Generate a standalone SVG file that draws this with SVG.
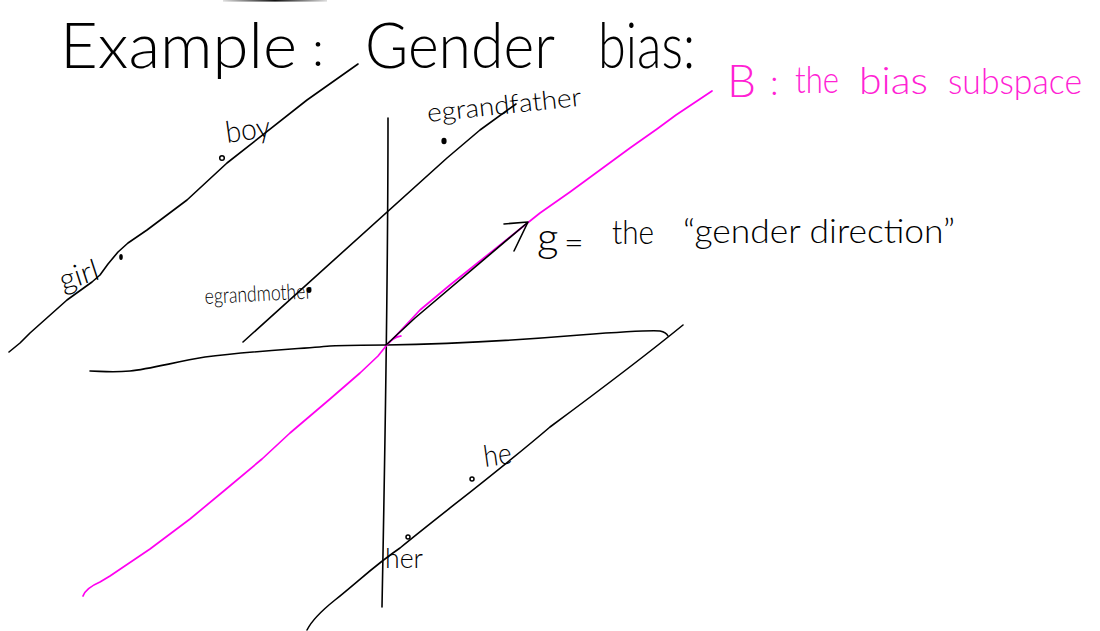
<svg xmlns="http://www.w3.org/2000/svg" width="1100" height="631" viewBox="0 0 1100 631">
<defs>
<linearGradient id="topbar" x1="0" x2="1" y1="0" y2="0">
<stop offset="0" stop-color="#ddd"/><stop offset="0.5" stop-color="#111"/><stop offset="1" stop-color="#ddd"/>
</linearGradient>
</defs>
<style>
.ink{fill:none;stroke:#000;stroke-width:1.6;stroke-linecap:round;stroke-linejoin:round}
.pink{fill:none;stroke:#ff00f0;stroke-width:1.7;stroke-linecap:round;stroke-linejoin:round}
.t{font-family:Lato,"Liberation Sans",sans-serif;font-weight:300;fill:#000}
.pt{font-family:Lato,"Liberation Sans",sans-serif;font-weight:300;fill:#ff22d4}
.dot{fill:#fff;stroke:#000;stroke-width:1.5}
.fdot{fill:#000}
</style>
<rect x="223" y="0" width="104" height="1.6" fill="url(#topbar)"/>
<g id="title">
<text class="t" x="60" y="68" font-size="64" textLength="237" lengthAdjust="spacingAndGlyphs">Example</text>
<text class="t" x="312" y="66" font-size="50">:</text>
<text class="t" x="365" y="68" font-size="64" textLength="190" lengthAdjust="spacingAndGlyphs">Gender</text>
<text class="t" x="598" y="68" font-size="64" textLength="97" lengthAdjust="spacingAndGlyphs">bias:</text>
</g>
<g id="connectors">
<path id="axis-x" class="ink" d="M90,371 C100,371 110,373 130,371 C150,369 175,362 205,357 C250,351 300,349 330,346 C350,345 370,345 386,345 C450,344 520,340 580,335 C620,332 650,330 660,331 C665,332 667,334 668,336"/>
<path id="axis-y" class="ink" d="M388,118 C388,250 386,400 382,607"/>
<path id="line-girl-boy" class="ink" d="M9,352 L20,343 L30,333 L67,300 L92,282 L100,275 L108,264 L118,252 L128,243 L147,230 L187,200 L227,163 L307,100 L358,64"/>
<path id="line-grand" class="ink" d="M243,342 L447,158 L480,130 L516,104"/>
<path id="line-her-he" class="ink" d="M307,630 C312,620 320,612 335,600 C360,580 375,565 400,548 C440,515 500,470 550,427 C600,390 650,352 683,325"/>
<path id="B-line" class="pink" d="M83,596 Q86,588 100,582 L110,576 L150,549 L190,519 L225,490 L262,459 L290,433 L330,399 L360,373 L378,356 L386,346 Q392,338 401,336 Q395,336 389,343 L420,310 L450,285 L480,261 L510,237 L540,213 L570,192 L600,170 L630,148 L657,129 L676,115 L697,101 L712,91"/>
<path id="g-vector" class="ink" d="M386,345 L415,318 L527,223"/>
<path id="g-head" class="ink" d="M504,224 L528,222 L514,251"/>
</g>
<g id="node-boy">
<circle class="dot" cx="222" cy="158" r="2.3"/>
<text class="t" x="227" y="143" font-size="30" textLength="45" lengthAdjust="spacingAndGlyphs" transform="rotate(-8 227 143)">boy</text>
</g>
<g id="node-girl">
<ellipse class="fdot" cx="121" cy="257" rx="1.8" ry="3"/>
<text class="t" x="63" y="291" font-size="30" textLength="40" lengthAdjust="spacingAndGlyphs" transform="rotate(-18 63 291)">girl</text>
</g>
<g id="node-grandmother">
<ellipse class="fdot" cx="309" cy="290" rx="2.5" ry="3"/>
<text class="t" x="205" y="304" font-size="22" textLength="107" lengthAdjust="spacingAndGlyphs" transform="rotate(-3 205 304)">egrandmother</text>
</g>
<g id="node-grandfather">
<ellipse class="fdot" cx="444" cy="141" rx="2.6" ry="3.2"/>
<text class="t" x="428" y="122" font-size="26" textLength="155" lengthAdjust="spacingAndGlyphs" transform="rotate(-6 428 122)">egrandfather</text>
</g>
<g id="node-he">
<circle class="dot" cx="472" cy="479" r="2"/>
<text class="t" x="485" y="467" font-size="30" textLength="28" lengthAdjust="spacingAndGlyphs" transform="rotate(-8 485 467)">he</text>
</g>
<g id="node-her">
<circle class="dot" cx="408" cy="537" r="2"/>
<text class="t" x="385" y="568" font-size="28" textLength="38" lengthAdjust="spacingAndGlyphs">her</text>
</g>
<g id="label-g">
<text class="t" x="537" y="252" font-size="42">g</text>
<text class="t" x="564" y="254" font-size="34">=</text>
<text class="t" x="612" y="244" font-size="34" textLength="42" lengthAdjust="spacingAndGlyphs">the</text>
<text class="t" x="683" y="243" font-size="34" textLength="272" lengthAdjust="spacingAndGlyphs">“gender direction”</text>
</g>
<g id="label-B">
<text class="pt" x="727" y="97" font-size="46">B</text>
<text class="pt" x="770" y="95" font-size="36">:</text>
<text class="pt" x="795" y="93" font-size="37" textLength="44" lengthAdjust="spacingAndGlyphs">the</text>
<text class="pt" x="859" y="94" font-size="37" textLength="69" lengthAdjust="spacingAndGlyphs">bias</text>
<text class="pt" x="948" y="94" font-size="36" textLength="134" lengthAdjust="spacingAndGlyphs">subspace</text>
</g>
</svg>
